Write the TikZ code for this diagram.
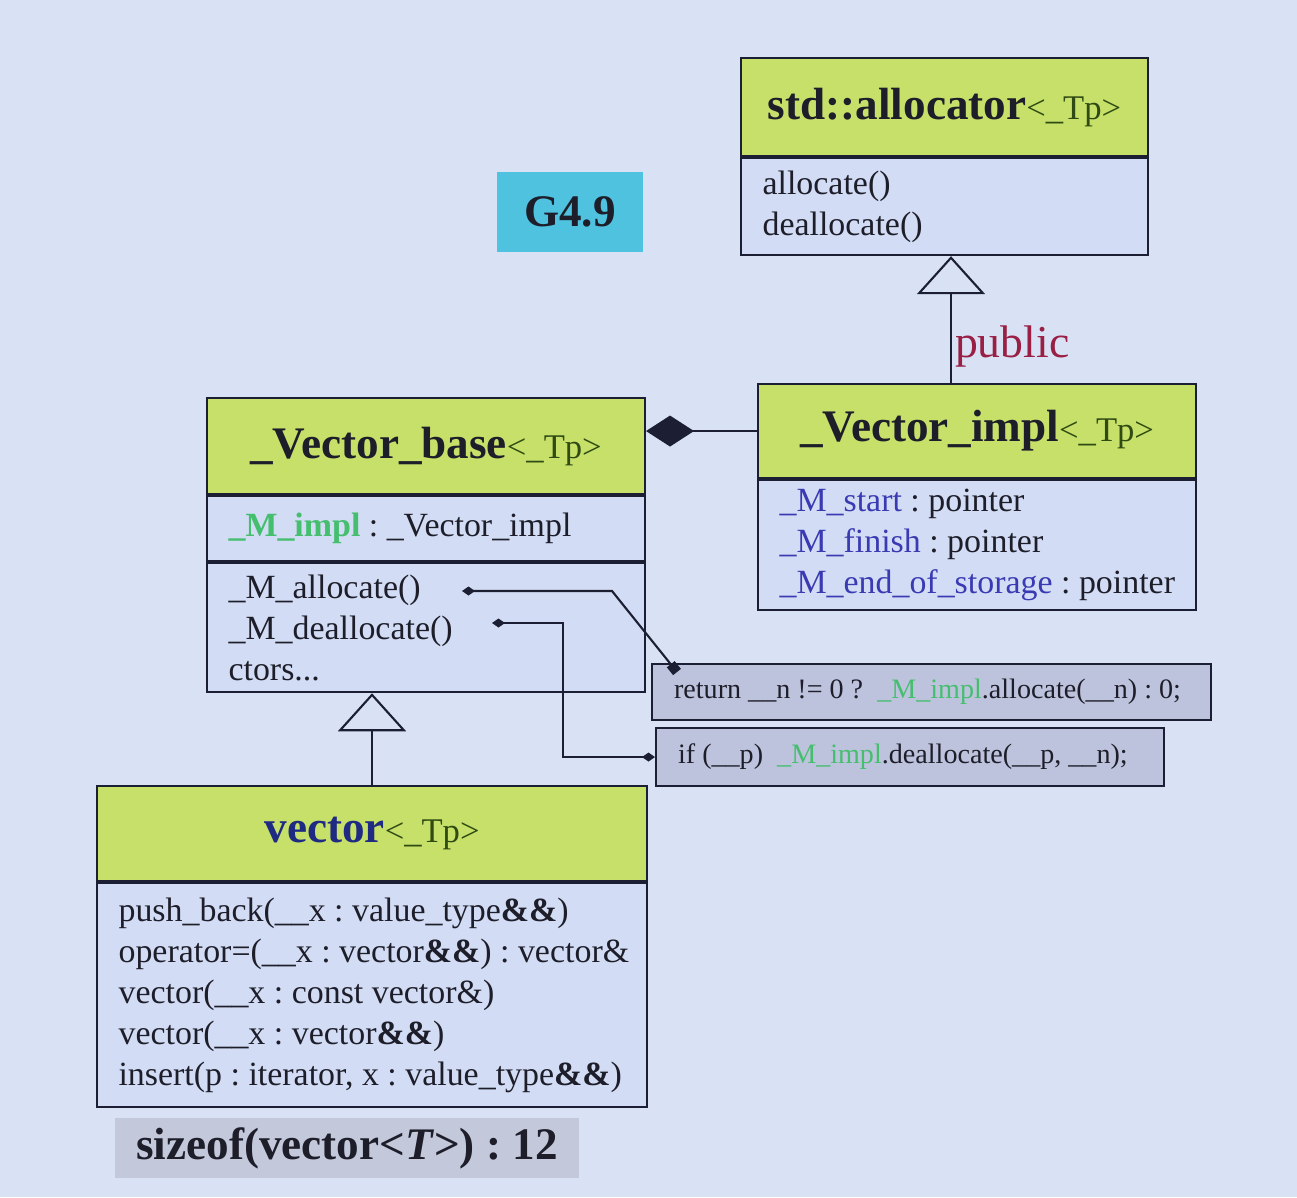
\documentclass[tikz,border=0pt]{standalone}
\usepackage{fontspec}
\setmainfont{Liberation Serif}
\usetikzlibrary{positioning,arrows.meta}

\definecolor{slide}{HTML}{D9E2F5}
\definecolor{bodyblue}{HTML}{D2DDF5}
\definecolor{headgreen}{HTML}{C6E06A}
\definecolor{codegray}{HTML}{BEC3DD}
\definecolor{tagcyan}{HTML}{4FC2E0}
\definecolor{sizegray}{HTML}{C3C8DB}
\definecolor{boxline}{HTML}{1C1F33}
\definecolor{inkdark}{HTML}{1E1E2A}
\definecolor{tpgreen}{HTML}{2F4A12}
\definecolor{implgreen}{HTML}{45BE6E}
\definecolor{memblue}{HTML}{3A3AB2}
\definecolor{vecblue}{HTML}{1F2A82}
\definecolor{pubred}{HTML}{9A1F45}

\newcommand{\classfont}{\fontsize{25.7}{30}\selectfont\bfseries}
\newcommand{\memberfont}{\fontsize{19.3}{23.3}\selectfont}
\newcommand{\codefont}{\fontsize{16}{19}\selectfont}
\newcommand{\tparg}{{\mdseries\fontsize{19.7}{23}\selectfont\textcolor{tpgreen}{<\_Tp>}}}
\newcommand{\mimpl}{\textcolor{implgreen}{\textbf{\_M\_impl}}}
\newcommand{\cimpl}{\textcolor{implgreen}{\_M\_impl}}
\newcommand{\mem}[1]{\textcolor{memblue}{#1}}

\tikzset{
  classhead/.style={draw=boxline, line width=1.2pt, fill=headgreen, inner sep=0pt,
    anchor=north west, text=inkdark, font=\classfont},
  classbody/.style={draw=boxline, line width=1.2pt, fill=bodyblue, inner xsep=0.43cm,
    inner ysep=0pt, align=flush left, text=inkdark, font=\memberfont},
  codebox/.style={draw=boxline, line width=1.2pt, fill=codegray, inner xsep=0.44cm,
    inner ysep=0pt, anchor=north west, align=flush left, text=inkdark, font=\codefont},
  tagbox/.style={inner sep=0pt, text=inkdark, font=\classfont},
  conn/.style={draw=boxline, line width=1.2pt},
  inherit/.style={conn, -{Triangle[open, length=0.76cm, width=1.36cm]}}
}

\begin{document}
\frenchspacing
\begin{tikzpicture}[x=0.02cm, y=-0.02cm]
  % Slide background
  \fill[slide] (0,0) rectangle (1297,1197);
  \useasboundingbox (0,0) rectangle (1297,1197);

  % Version tag
  \node[tagbox, fill=tagcyan, minimum width=2.92cm, minimum height=1.6cm]
    (ver) at (570,212) {G4.9};

  % std::allocator
  \node[classhead, minimum width=8.14cm, minimum height=1.96cm]
    (allocH) at (740,57) {std::allocator\tparg};
  \node[classbody, below=0pt of allocH, text width=7.28cm, minimum height=1.94cm]
    (allocB) {allocate()\\deallocate()};

  % _Vector_impl
  \node[classhead, minimum width=8.76cm, minimum height=1.88cm]
    (implH) at (757,383) {\_Vector\_impl\tparg};
  \node[classbody, below=0pt of implH, text width=7.9cm, minimum height=2.6cm]
    (implB) {\mem{\_M\_start} : pointer\\
             \mem{\_M\_finish} : pointer\\
             \mbox{\mem{\_M\_end\_of\_storage} : pointer}};

  % _Vector_base
  \node[classhead, minimum width=8.76cm, minimum height=1.92cm]
    (baseH) at (206,397) {\_Vector\_base\tparg};
  \node[classbody, below=0pt of baseH, text width=7.9cm, minimum height=1.3cm]
    (baseA) {\mimpl{} : \_Vector\_impl};
  \node[classbody, below=0pt of baseA, text width=7.9cm, minimum height=2.58cm]
    (baseM) {\_M\_allocate()\\\_M\_deallocate()\\ctors...};

  % vector
  \node[classhead, minimum width=11cm, minimum height=1.9cm]
    (vecH) at (96,785) {\textcolor{vecblue}{vector}\tparg};
  \node[classbody, below=0pt of vecH, text width=10.14cm, minimum height=4.48cm]
    (vecB) {push\_back(\_\_x : value\_type\textbf{\&\&})\\
            \mbox{operator=(\_\_x : vector\textbf{\&\&}) : vector\&}\\
            vector(\_\_x : const vector\&)\\
            vector(\_\_x : vector\textbf{\&\&})\\
            \mbox{insert(p : iterator, x : value\_type\textbf{\&\&})}};

  % Code of the two methods
  \node[codebox, text width=10.3cm, minimum height=1.12cm]
    (code1) at (651,663) {return \_\_n != 0 ?\ \ \cimpl.allocate(\_\_n) : 0;};
  \node[codebox, text width=9.28cm, minimum height=1.16cm]
    (code2) at (655,727) {if (\_\_p)\ \ \cimpl.deallocate(\_\_p, \_\_n);};

  % Size note
  \node[tagbox, fill=sizegray, minimum width=9.3cm, minimum height=1.2cm]
    (szof) at (347,1148) {sizeof(vector<\textit{T}>) : 12};

  % Inheritance
  \coordinate (pubFoot) at (951,383);
  \draw[inherit] (pubFoot) -- (pubFoot |- allocB.south);
  \node[anchor=base west, inner sep=1pt, text=pubred, font=\fontsize{26}{30}\selectfont]
    (pubLbl) at (953,357) {public};
  \draw[inherit] (vecH.north) -- (vecH.north |- baseM.south);

  % Composition
  \draw[conn, {Diamond[length=0.96cm, width=0.62cm]}-]
    (baseH.east |- implH.west) -- (implH.west);

  % Method bodies
  \coordinate (allocTip) at (462,591);
  \coordinate (allocBend) at (612,591);
  \draw[conn, {Diamond[length=0.26cm, width=0.18cm]}-{Square[length=0.2cm, width=0.2cm]}]
    (allocTip) -- (allocBend) -- ([shift={(26,9)}]code1.north west);
  \coordinate (deallocTip) at (492,623);
  \coordinate (deallocBend) at (563,623);
  \draw[conn, {Diamond[length=0.26cm, width=0.18cm]}-{Diamond[length=0.26cm, width=0.18cm]}]
    (deallocTip) -- (deallocBend) |- (code2.west);
\end{tikzpicture}
\end{document}
